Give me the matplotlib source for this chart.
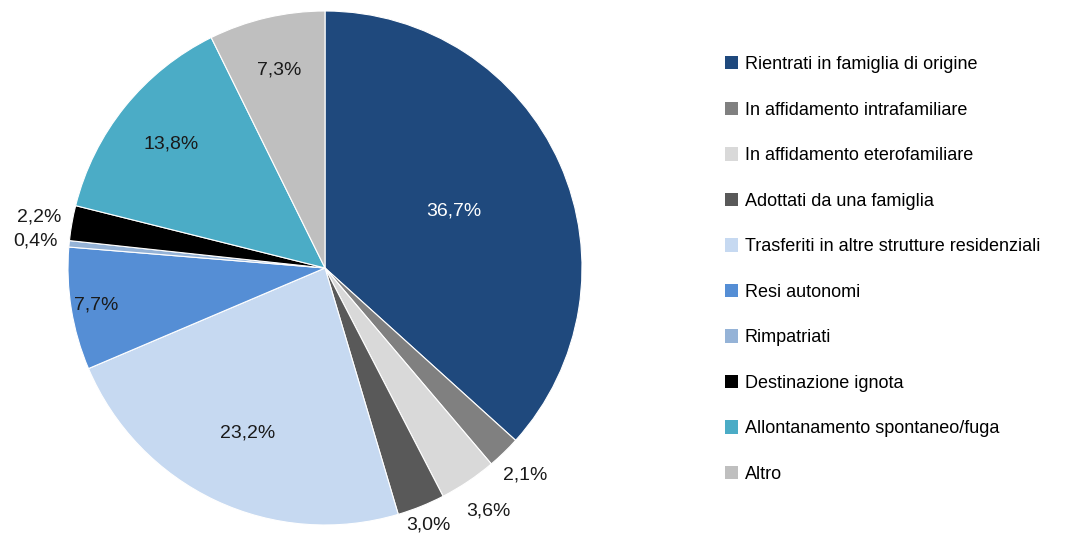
import numpy as np
from matplotlib import pyplot as plt
from matplotlib.patches import Patch

# Dati del grafico
categorie = ["Rientrati in famiglia di origine", "In affidamento intrafamiliare",
             "In affidamento eterofamiliare", "Adottati da una famiglia",
             "Trasferiti in altre strutture residenziali", "Resi autonomi",
             "Rimpatriati", "Destinazione ignota",
             "Allontanamento spontaneo/fuga", "Altro"]
valori = [36.7, 2.1, 3.6, 3.0, 23.2, 7.7, 0.4, 2.2, 13.8, 7.3]
etichette = ["36,7%", "2,1%", "3,6%", "3,0%", "23,2%", "7,7%", "0,4%", "2,2%", "13,8%", "7,3%"]

colori = ["#1F497D", "#808080", "#D9D9D9", "#595959", "#C6D9F1",
          "#558ED5", "#95B3D7", "#000000", "#4BACC6", "#BFBFBF"]
# distanza delle etichette dal centro (in raggi)
dist_etichette = [0.55, 1.12, 1.14, 1.08, 0.71, 0.90, 1.13, 1.13, 0.77, 0.79]
colore_testo = ["white", "#1a1a1a", "#1a1a1a", "#1a1a1a", "#1a1a1a",
                "#1a1a1a", "#1a1a1a", "#1a1a1a", "#1a1a1a", "#1a1a1a"]

plt.rcParams['font.family'] = ['Liberation Sans Narrow', 'Liberation Sans', 'DejaVu Sans']

fig = plt.figure(figsize=(10.69, 5.38), dpi=100)
r_px = 257
ax = fig.add_axes([(325 - r_px) / 1069, (270 - r_px) / 538, 2 * r_px / 1069, 2 * r_px / 538])

wedges, _ = ax.pie(valori, colors=colori, startangle=90, counterclock=False,
                   radius=1.0, wedgeprops=dict(edgecolor="white", linewidth=0.8))
ax.set_xlim(-1, 1)
ax.set_ylim(-1, 1)
ax.set_aspect('equal')
ax.axis('off')

for w, lab, d, c in zip(wedges, etichette, dist_etichette, colore_testo):
    ang = np.deg2rad((w.theta1 + w.theta2) / 2)
    ax.text(d * np.cos(ang), d * np.sin(ang), lab, ha="center", va="center",
            fontsize=14, color=c, clip_on=False)

handles = [Patch(facecolor=c, edgecolor="none") for c in colori]
fig.legend(handles, categorie, loc="center left", bbox_to_anchor=(0.678, 0.499),
           frameon=False, fontsize=13, handlelength=0.75, handleheight=0.75,
           handletextpad=0.35, labelspacing=1.58, borderpad=0, borderaxespad=0)

plt.savefig("out.png", dpi=100)
